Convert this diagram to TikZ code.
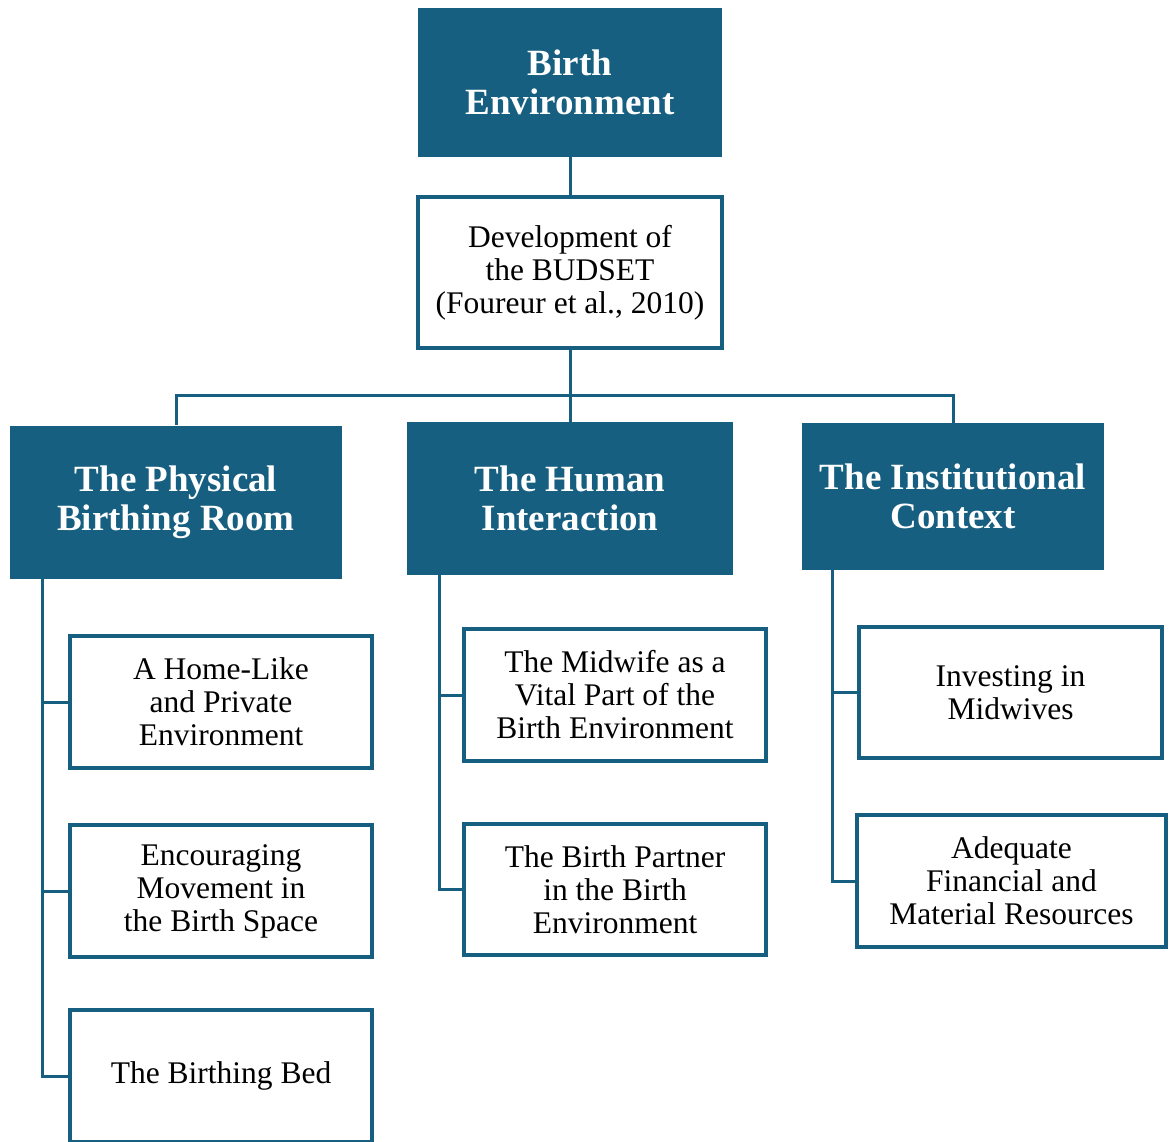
\documentclass[tikz,border=0pt]{standalone}
\usepackage{fontspec}
\setmainfont{Liberation Serif}
\definecolor{teal}{HTML}{175F80}
\begin{document}
\begin{tikzpicture}[x=1pt,y=-1pt,
  head/.style={fill=teal, draw=none, text=white, align=center, inner sep=0pt,
    font=\fontsize{37}{39}\selectfont\bfseries},
  sub/.style={fill=white, draw=teal, line width=3.6pt, align=center, inner sep=0pt,
    font=\fontsize{31.5}{33}\selectfont},
  conn/.style={draw=teal, line width=3pt}]
\useasboundingbox[fill=white] (0,0) rectangle (1170,1142);
% top levels
\node[head, minimum width=304pt, minimum height=149pt] (top) at (570,82.5) {Birth\\Environment};
\node[sub, minimum width=304pt, minimum height=151pt] (dev) at (570,272.5) {Development of\\the BUDSET\\(Foureur et al., 2010)};
\node[head, minimum width=332pt, minimum height=153pt] (phys) at (176,502) {The Physical\\Birthing Room};
\node[head, minimum width=326pt, minimum height=153pt] (human) at (570,498.5) {The Human\\Interaction};
\node[head, minimum width=302pt, minimum height=147pt] (inst) at (953,496.5) {The Institutional\\Context};
% sub boxes
\node[sub, minimum width=302pt, minimum height=132pt] (A) at (221,702) {A Home-Like\\and Private\\Environment};
\node[sub, minimum width=302pt, minimum height=132pt] (B) at (221,891) {Encouraging\\Movement in\\the Birth Space};
\node[sub, minimum width=302pt, minimum height=132pt] (C) at (221,1076) {The Birthing Bed};
\node[sub, minimum width=302pt, minimum height=132pt] (D) at (615,695) {The Midwife as a\\Vital Part of the\\Birth Environment};
\node[sub, minimum width=302pt, minimum height=131pt] (E) at (615,889.5) {The Birth Partner\\in the Birth\\Environment};
\node[sub, minimum width=303pt, minimum height=131pt] (F) at (1010.5,692.5) {Investing in\\Midwives};
\node[sub, minimum width=309pt, minimum height=132pt] (G) at (1011.5,881) {Adequate\\Financial and\\Material Resources};
% coordinates
\coordinate (bus) at (570,395);
\coordinate (sp) at (42,578);
\coordinate (sh) at (439,575);
\coordinate (si) at (832,570);
% connectors
\draw[conn] (top.south) -- (dev.north);
\draw[conn] (dev.south) -- (bus) -- (human.north);
\draw[conn] (bus) -| (phys.north);
\draw[conn] (bus) -| (inst.north);
\draw[conn] (sp) |- (A.west);
\draw[conn] (sp) |- (B.west);
\draw[conn] (sp) |- (C.west);
\draw[conn] (sh) |- (D.west);
\draw[conn] (sh) |- (E.west);
\draw[conn] (si) |- (F.west);
\draw[conn] (si) |- (G.west);
\end{tikzpicture}
\end{document}
